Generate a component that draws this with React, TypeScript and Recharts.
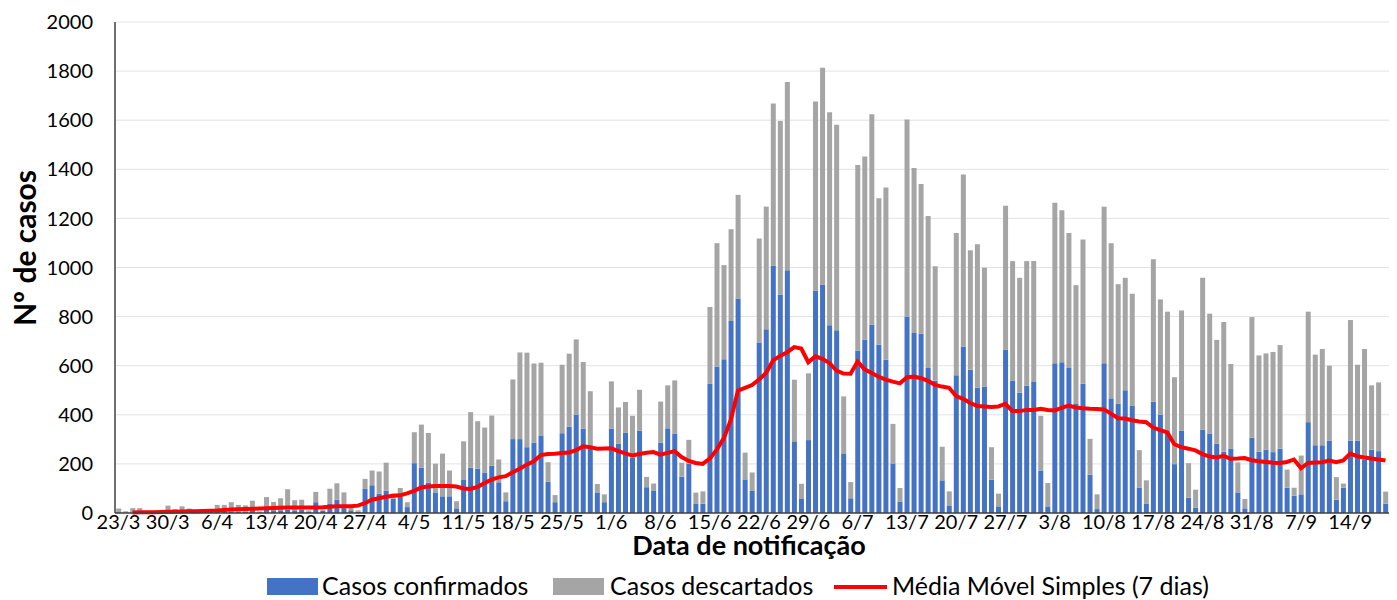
import React from 'react';
import { ComposedChart, Bar, Line, XAxis, YAxis, CartesianGrid } from 'recharts';

const DATES = [
  '23/3','24/3','25/3','26/3','27/3','28/3','29/3','30/3','31/3',
  '1/4','2/4','3/4','4/4','5/4','6/4','7/4','8/4','9/4','10/4','11/4','12/4','13/4','14/4','15/4','16/4','17/4','18/4','19/4','20/4','21/4','22/4','23/4','24/4','25/4','26/4','27/4','28/4','29/4','30/4',
  '1/5','2/5','3/5','4/5','5/5','6/5','7/5','8/5','9/5','10/5','11/5','12/5','13/5','14/5','15/5','16/5','17/5','18/5','19/5','20/5','21/5','22/5','23/5','24/5','25/5','26/5','27/5','28/5','29/5','30/5','31/5',
  '1/6','2/6','3/6','4/6','5/6','6/6','7/6','8/6','9/6','10/6','11/6','12/6','13/6','14/6','15/6','16/6','17/6','18/6','19/6','20/6','21/6','22/6','23/6','24/6','25/6','26/6','27/6','28/6','29/6','30/6',
  '1/7','2/7','3/7','4/7','5/7','6/7','7/7','8/7','9/7','10/7','11/7','12/7','13/7','14/7','15/7','16/7','17/7','18/7','19/7','20/7','21/7','22/7','23/7','24/7','25/7','26/7','27/7','28/7','29/7','30/7','31/7',
  '1/8','2/8','3/8','4/8','5/8','6/8','7/8','8/8','9/8','10/8','11/8','12/8','13/8','14/8','15/8','16/8','17/8','18/8','19/8','20/8','21/8','22/8','23/8','24/8','25/8','26/8','27/8','28/8','29/8','30/8','31/8',
  '1/9','2/9','3/9','4/9','5/9','6/9','7/9','8/9','9/9','10/9','11/9','12/9','13/9','14/9','15/9','16/9','17/9','18/9','19/9',
];

const CONFIRMADOS = [
  3,1,2,2,0,0,0,3,2,3, 3,1,1,1,5,5,6,5,6,22,
  2,27,11,11,14,11,14,5,44,10, 39,54,20,11,5,98,113,79,91,58,
  68,24,203,185,124,84,68,68,19,137, 185,181,165,193,125,48,301,301,268,287,
  316,128,44,325,352,401,344,270,84,44, 344,283,328,226,336,105,92,287,345,324,
  148,200,39,38,526,597,626,782,874,137, 90,694,748,1008,890,989,292,57,297,906,
  931,765,744,243,60,662,707,767,685,624, 202,47,800,733,730,591,539,133,31,561,
  678,584,511,515,136,27,666,538,490,518, 534,173,27,610,614,591,444,526,156,16,
  610,467,446,500,438,104,39,453,401,322, 199,336,62,22,340,324,283,249,263,84,
  19,307,250,258,248,262,103,71,76,370, 276,276,294,54,103,295,295,218,258,252,
  38,
];

const DESCARTADOS = [
  15,6,18,18,3,4,3,27,14,24, 15,5,7,5,28,28,38,28,25,28,
  4,38,34,49,83,41,40,6,42,4, 60,67,64,9,6,41,60,90,114,21,
  34,20,126,175,202,117,174,105,29,155, 226,193,183,204,93,36,243,353,385,322,
  296,79,29,279,297,306,271,226,34,32, 192,147,124,170,166,42,28,167,175,216,
  57,98,44,50,313,502,384,374,422,109, 75,424,500,660,707,767,251,62,272,770,
  883,867,837,232,66,756,745,857,597,702, 161,55,803,672,610,619,466,137,57,580,
  701,486,584,484,132,52,586,488,468,508, 492,223,95,654,619,550,484,588,146,60,
  637,632,486,458,455,152,94,581,469,498, 354,489,141,73,618,488,422,529,344,122,
  38,491,392,392,408,422,74,32,158,450, 369,392,306,92,17,491,309,450,262,280,
  49,
];

const MEDIA_MOVEL = [
  null,null,2,3,3,3,4,5,5,6, 7,7,8,9,10,12,14,15,16,17,
  18,19,20,21,22,22,22,22,22,23, 25,27,28,28,30,40,54,60,66,70,
  72,80,90,104,108,110,110,110,108,100, 98,106,122,136,145,150,166,180,197,211,
  236,240,241,244,246,256,272,268,262,263, 264,252,243,234,240,245,248,238,245,252,
  228,212,204,200,222,258,305,380,498,510, 521,544,570,622,640,655,676,670,614,638,
  628,611,580,568,567,617,585,570,555,543, 535,528,552,556,549,538,522,515,510,476,
  465,448,436,434,432,434,445,415,415,420, 420,425,420,418,428,438,430,427,425,424,
  422,405,386,385,378,373,370,348,338,328, 280,268,262,255,240,230,226,233,221,222,
  224,215,211,208,205,204,208,218,182,204, 206,207,214,207,214,242,231,226,222,218,
  214,
];

const Y_TICKS = [0, 200, 400, 600, 800, 1000, 1200, 1400, 1600, 1800, 2000];

const SERIES_NAMES = ['Casos confirmados', 'Casos descartados', 'Média Móvel Simples (7 dias)'];
const X_TITLE = 'Data de notificação';
const Y_TITLE = 'Nº de casos';

const data = DATES.map((d, i) => ({
  date: d,
  confirmados: CONFIRMADOS[i],
  descartados: DESCARTADOS[i],
  media: MEDIA_MOVEL[i],
}));

const FONT = 'Lato, "Open Sans", sans-serif';
const BLUE = '#4472C4';
const GREY = '#A5A5A5';
const RED = '#FF0000';
const W = 1389;
const H = 592;

export default function App() {
  return (
    <div style={{ position: 'relative', width: W, height: H, fontFamily: FONT }}>
      <ComposedChart
        width={W}
        height={H}
        data={data}
        margin={{ top: 14, right: 8, left: 0, bottom: 57 }}
        barCategoryGap="17%"
      >
        <CartesianGrid vertical={false} stroke="#E3E3E3" strokeWidth={1} />
        <XAxis
          dataKey="date"
          interval={6}
          height={30}
          tickLine={false}
          tickSize={0}
          tickMargin={2}
          axisLine={{ stroke: '#404040', strokeWidth: 1.5 }}
          tick={{ fill: '#000', fontSize: 20, fontFamily: FONT }}
        />
        <YAxis
          width={107}
          domain={[0, 2000]}
          ticks={Y_TICKS}
          interval={0}
          tickLine={false}
          tickSize={0}
          tickMargin={22}
          axisLine={{ stroke: '#404040', strokeWidth: 1.5 }}
          tick={{ fill: '#000', fontSize: 20, fontFamily: FONT }}
        />
        <Bar dataKey="confirmados" stackId="a" fill={BLUE} isAnimationActive={false} />
        <Bar dataKey="descartados" stackId="a" fill={GREY} isAnimationActive={false} />
        <Line
          dataKey="media"
          type="linear"
          stroke={RED}
          strokeWidth={4}
          dot={false}
          activeDot={false}
          isAnimationActive={false}
        />
      </ComposedChart>
      <svg
        width={W}
        height={H}
        style={{ position: 'absolute', left: 0, top: 0, pointerEvents: 'none' }}
      >
        <text
          x={741}
          y={547}
          textAnchor="middle"
          fontFamily={FONT}
          fontWeight="bold"
          fontSize={27}
          fill="#000"
        >
          {X_TITLE}
        </text>
        <text
          x={28}
          y={240}
          textAnchor="middle"
          fontFamily={FONT}
          fontWeight="bold"
          fontSize={30}
          fill="#000"
          transform="rotate(-90 28 240)"
        >
          {Y_TITLE}
        </text>
        <rect x={259} y={570} width={51} height={17} fill={BLUE} />
        <text x={314} y={587} fontFamily={FONT} fontSize={25} fill="#000">{SERIES_NAMES[0]}</text>
        <rect x={545} y={570} width={51} height={17} fill={GREY} />
        <text x={602} y={587} fontFamily={FONT} fontSize={25} fill="#000">{SERIES_NAMES[1]}</text>
        <line x1={826} x2={879} y1={579} y2={579} stroke={RED} strokeWidth={4} />
        <text x={884} y={587} fontFamily={FONT} fontSize={25} fill="#000">{SERIES_NAMES[2]}</text>
      </svg>
    </div>
  );
}
